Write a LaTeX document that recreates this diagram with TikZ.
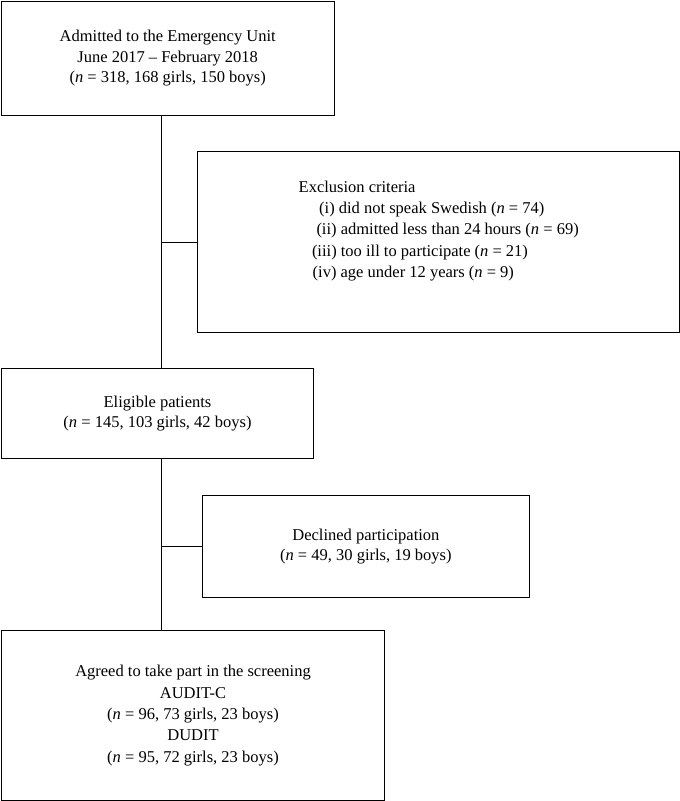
\documentclass[tikz,border=0pt]{standalone}
\usepackage{fontspec}
\setmainfont{Liberation Serif}
\begin{document}
\begin{tikzpicture}[x=1pt,y=-1pt,
  box/.style={draw, line width=1.1pt, inner sep=0pt, anchor=north west, align=center,
    font=\fontsize{16.5}{20.5}\selectfont},
  txt/.style={inner sep=0pt, anchor=base west, font=\fontsize{16.5}{20.5}\selectfont},
  conn/.style={line width=1.1pt}]
\useasboundingbox (0,0) rectangle (680,801);
\node[box, minimum width=333.1pt, minimum height=114.1pt] (b1) at (0.6,0.6)
  {Admitted to the Emergency Unit\\June 2017 -- February 2018\\(\textit{n} = 318, 168 girls, 150 boys)};
\node[box, minimum width=481.5pt, minimum height=181pt] (b2) at (197.3,151) {};
\node[txt] (e0) at (298.5,192) {Exclusion criteria};
\node[txt] (e1) at (319,213.2) {(i) did not speak Swedish (\textit{n} = 74)};
\node[txt] (e2) at (316.3,234.5) {(ii) admitted less than 24 hours (\textit{n} = 69)};
\node[txt] (e3) at (311.8,256) {(iii) too ill to participate (\textit{n} = 21)};
\node[txt] (e4) at (312.5,277.5) {(iv) age under 12 years (\textit{n} = 9)};
\node[box, minimum width=312.7pt, minimum height=90.3pt] (b3) at (0.6,367.7)
  {Eligible patients\\(\textit{n} = 145, 103 girls, 42 boys)};
\node[box, minimum width=326.7pt, minimum height=101.7pt] (b4) at (202,495)
  {Declined participation\\(\textit{n} = 49, 30 girls, 19 boys)};
\node[box, minimum width=383.7pt, minimum height=169.8pt, font=\fontsize{16.5}{21.3}\selectfont] (b5) at (0.6,630)
  {Agreed to take part in the screening\\AUDIT-C\\(\textit{n} = 96, 73 girls, 23 boys)\\DUDIT\\(\textit{n} = 95, 72 girls, 23 boys)};
\coordinate (trunk) at (161.7,0);
\draw[conn] (trunk |- b1.south) -- (trunk |- b3.north);
\draw[conn] (trunk |- b3.south) -- (trunk |- b5.north);
\draw[conn] (trunk |- b2.west) -- (b2.west);
\draw[conn] (trunk |- b4.west) -- (b4.west);
\end{tikzpicture}
\end{document}
